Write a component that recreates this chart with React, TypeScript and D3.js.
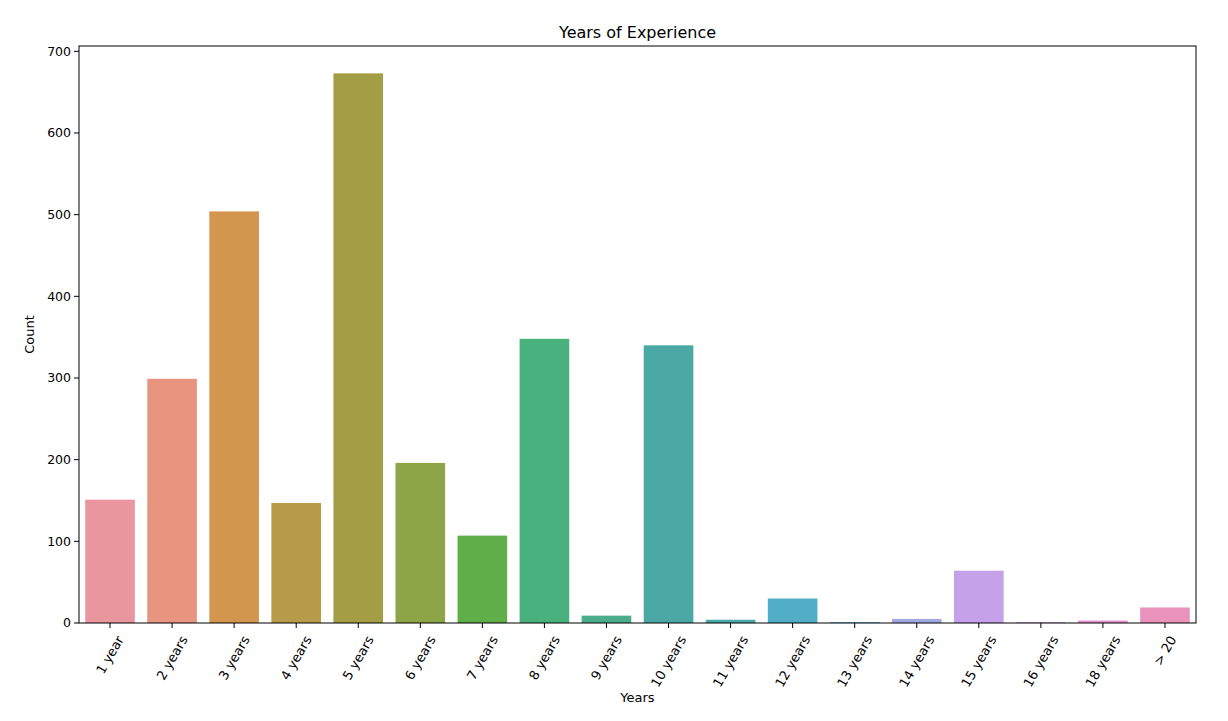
import React, { useEffect, useRef } from "react";
import * as d3 from "d3";

const categories = ["1 year", "2 years", "3 years", "4 years", "5 years", "6 years", "7 years", "8 years", "9 years", "10 years", "11 years", "12 years", "13 years", "14 years", "15 years", "16 years", "18 years", "> 20"];
const counts = [151, 299, 504, 147, 673, 196, 107, 348, 9, 340, 4, 30, 1, 5, 64, 1, 3, 19];
const colors = ["#e9969f", "#e89580", "#d3964e", "#b89b4a", "#a39e46", "#8ea547", "#5fae48", "#49b17e", "#4aae8d", "#4aa9a5", "#49a9ab", "#51adc8", "#5ca1d8", "#a2a7e6", "#c5a1ea", "#d88fe0", "#e58fcf", "#e992bc"];
const yTicks = [0, 100, 200, 300, 400, 500, 600, 700];

const W = 1228, H = 721;
const M = { left: 79, right: 1196, top: 46, bottom: 623 };
const FONT = "DejaVu Sans, sans-serif";

export default function App() {
  const ref = useRef<SVGSVGElement | null>(null);

  useEffect(() => {
    const svg = d3.select(ref.current);
    svg.selectAll("*").remove();

    const x = d3.scaleBand<string>().domain(categories).range([M.left, M.right]).paddingInner(0.2).paddingOuter(0.1);
    const y = d3.scaleLinear().domain([0, 706.5]).range([M.bottom, M.top]);

    svg.append("rect").attr("x", 0).attr("y", 0).attr("width", W).attr("height", H).attr("fill", "#fff");

    svg.append("g").selectAll("rect").data(categories).join("rect")
      .attr("x", (d) => x(d)!)
      .attr("width", x.bandwidth())
      .attr("y", (d, i) => y(counts[i]))
      .attr("height", (d, i) => y(0) - y(counts[i]))
      .attr("fill", (d, i) => colors[i]);

    // frame
    svg.append("rect").attr("x", M.left).attr("y", M.top).attr("width", M.right - M.left).attr("height", M.bottom - M.top)
      .attr("fill", "none").attr("stroke", "#000").attr("stroke-width", 1);

    // y ticks
    const yg = svg.append("g");
    yTicks.forEach((t) => {
      yg.append("line").attr("x1", M.left - 5).attr("x2", M.left).attr("y1", y(t)).attr("y2", y(t)).attr("stroke", "#000");
      yg.append("text").attr("x", M.left - 8).attr("y", y(t)).attr("dy", "0.35em").attr("text-anchor", "end")
        .attr("font-family", FONT).attr("font-size", 12.5).attr("fill", "#000").text(t);
    });

    // x ticks
    const xg = svg.append("g");
    categories.forEach((c) => {
      const cx = x(c)! + x.bandwidth() / 2;
      xg.append("line").attr("x1", cx).attr("x2", cx).attr("y1", M.bottom).attr("y2", M.bottom + 5).attr("stroke", "#000");
      const t = xg.append("text").attr("text-anchor", "middle").attr("dominant-baseline", "central")
        .attr("font-family", FONT).attr("font-size", 13).attr("fill", "#000").text(c);
      const w = (t.node() as SVGTextElement).getComputedTextLength();
      const h = 12;
      const boxH = w * Math.sin(Math.PI / 3) + h * Math.cos(Math.PI / 3);
      const cy = M.bottom + 11 + boxH / 2;
      t.attr("transform", `translate(${cx},${cy}) rotate(-60)`);
    });

    svg.append("text").attr("x", (M.left + M.right) / 2).attr("y", 38).attr("text-anchor", "middle")
      .attr("font-family", FONT).attr("font-size", 16).attr("fill", "#000").text("Years of Experience");
    svg.append("text").attr("x", (M.left + M.right) / 2).attr("y", 702).attr("text-anchor", "middle")
      .attr("font-family", FONT).attr("font-size", 13).attr("fill", "#000").text("Years");
    svg.append("text").attr("transform", `translate(34,${(M.top + M.bottom) / 2}) rotate(-90)`).attr("text-anchor", "middle")
      .attr("font-family", FONT).attr("font-size", 13).attr("fill", "#000").text("Count");
  }, []);

  return (
    <svg ref={ref} width={W} height={H} style={{ position: "absolute", left: 0, top: 0, display: "block" }} />
  );
}
